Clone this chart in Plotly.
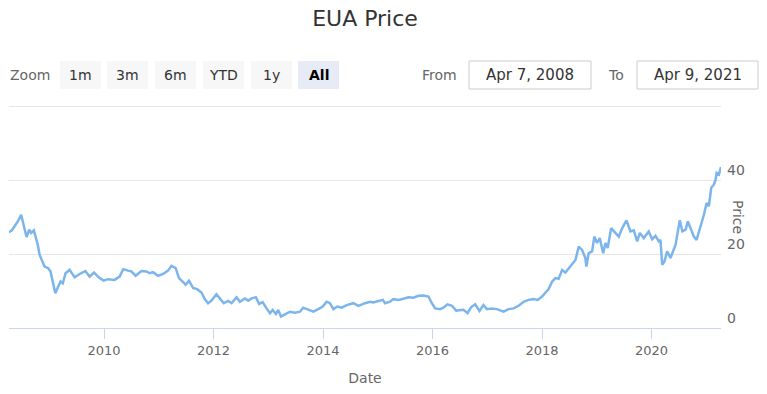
import plotly.graph_objects as go

# ---- data ----
dates = [
    "2008-04-07", "2008-04-26", "2008-05-14", "2008-06-05", "2008-06-27", "2008-07-15", "2008-08-02",
    "2008-08-20", "2008-09-02", "2008-09-20", "2008-10-06", "2008-10-16", "2008-10-28", "2008-11-08",
    "2008-11-30", "2008-12-23", "2009-01-09", "2009-01-25", "2009-02-10", "2009-02-27", "2009-03-17",
    "2009-04-01", "2009-04-19", "2009-05-16", "2009-06-19", "2009-07-22", "2009-08-29", "2009-09-27",
    "2009-10-26", "2009-11-26", "2009-12-29", "2010-01-27", "2010-03-12", "2010-04-15", "2010-05-09",
    "2010-06-10", "2010-07-02", "2010-07-31", "2010-09-07", "2010-10-11", "2010-11-02", "2010-11-24",
    "2010-12-27", "2011-01-30", "2011-03-04", "2011-03-27", "2011-04-24", "2011-05-16", "2011-06-12",
    "2011-06-30", "2011-07-22", "2011-08-18", "2011-09-14", "2011-10-13", "2011-11-04", "2011-11-26",
    "2011-12-19", "2012-01-21", "2012-02-12", "2012-03-10", "2012-04-08", "2012-05-01", "2012-06-03",
    "2012-06-25", "2012-07-29", "2012-08-20", "2012-09-11", "2012-10-10", "2012-11-01", "2012-11-24",
    "2012-12-20", "2013-01-12", "2013-01-30", "2013-02-21", "2013-03-08", "2013-03-26", "2013-04-22",
    "2013-05-25", "2013-06-28", "2013-07-31", "2013-08-22", "2013-09-24", "2013-10-28", "2013-11-30",
    "2013-12-30", "2014-01-25", "2014-02-16", "2014-03-11", "2014-04-06", "2014-05-06", "2014-06-08",
    "2014-07-22", "2014-08-25", "2014-10-08", "2014-11-11", "2014-12-03", "2015-01-05", "2015-02-04",
    "2015-02-19", "2015-03-24", "2015-04-15", "2015-05-19", "2015-06-21", "2015-07-25", "2015-08-27",
    "2015-09-29", "2015-11-02", "2015-12-05", "2015-12-28", "2016-01-19", "2016-02-21", "2016-03-14",
    "2016-04-10", "2016-05-10", "2016-06-07", "2016-07-04", "2016-07-26", "2016-08-22", "2016-09-14",
    "2016-10-12", "2016-11-10", "2016-12-06", "2016-12-29", "2017-02-01", "2017-03-06", "2017-04-19",
    "2017-05-23", "2017-06-25", "2017-07-29", "2017-08-31", "2017-10-03", "2017-11-06", "2017-12-03",
    "2018-01-01", "2018-01-23", "2018-02-14", "2018-03-09", "2018-03-31", "2018-04-22", "2018-05-15",
    "2018-06-06", "2018-06-28", "2018-07-21", "2018-08-12", "2018-09-03", "2018-09-25", "2018-10-17",
    "2018-10-24", "2018-11-08", "2018-12-01", "2018-12-16", "2019-01-03", "2019-01-21", "2019-02-13",
    "2019-02-28", "2019-03-15", "2019-04-07", "2019-04-29", "2019-05-28", "2019-06-20", "2019-07-18",
    "2019-08-14", "2019-09-05", "2019-09-28", "2019-10-15", "2019-11-11", "2019-12-14", "2020-01-06",
    "2020-01-28", "2020-02-19", "2020-03-01", "2020-03-13", "2020-03-28", "2020-04-15", "2020-05-07",
    "2020-06-10", "2020-06-21", "2020-07-08", "2020-07-25", "2020-08-16", "2020-08-31", "2020-09-18",
    "2020-10-10", "2020-10-28", "2020-11-19", "2020-12-16", "2021-01-03", "2021-01-18", "2021-02-03",
    "2021-02-21", "2021-03-04", "2021-03-11", "2021-03-26", "2021-04-09",
]
prices = [
    25.9, 26.4, 27.5, 28.8, 30.6, 27.9, 24.6,
    26.6, 25.7, 26.4, 24.0, 22.5, 19.8, 18.6,
    16.6, 16.2, 15.3, 12.3, 9.4, 11.0, 12.6,
    12.1, 14.8, 15.7, 13.7, 14.6, 15.4, 13.9,
    15.0, 13.7, 12.8, 13.2, 13.0, 13.9, 15.9,
    15.5, 15.3, 14.1, 15.4, 15.3, 14.8, 15.1,
    14.1, 14.6, 15.5, 16.8, 16.2, 13.5, 12.3,
    11.7, 12.8, 10.8, 10.5, 9.6, 7.8, 6.7,
    7.4, 9.1, 8.0, 6.7, 7.3, 6.7, 8.3,
    7.1, 8.0, 7.4, 8.0, 8.3, 6.5, 7.0,
    5.3, 4.0, 4.9, 3.8, 4.9, 3.1, 3.7,
    4.4, 4.1, 4.4, 5.5, 4.9, 4.4, 5.1,
    5.8, 7.1, 6.7, 5.1, 5.8, 5.5, 6.2,
    6.7, 6.0, 6.7, 7.1, 6.9, 7.3, 7.6,
    6.7, 7.1, 7.8, 7.6, 7.9, 8.3, 8.2,
    8.7, 8.8, 8.5, 6.7, 5.3, 5.1, 5.5,
    6.4, 6.0, 4.7, 4.7, 4.9, 4.0, 5.6,
    6.4, 4.6, 6.2, 5.1, 5.3, 5.1, 4.4,
    5.1, 5.3, 6.0, 7.1, 7.6, 7.8, 7.6,
    8.5, 9.4, 10.5, 12.5, 13.5, 13.3, 15.7,
    15.0, 16.2, 17.5, 18.4, 22.0, 21.1, 18.9,
    16.6, 20.2, 20.7, 24.7, 23.0, 24.3, 20.2,
    23.0, 21.6, 27.0, 26.1, 24.7, 27.0, 29.1,
    26.1, 26.4, 23.4, 25.7, 24.3, 26.1, 24.0,
    24.9, 23.4, 23.8, 17.1, 18.0, 20.7, 18.9,
    22.5, 24.7, 29.1, 26.1, 26.6, 28.8, 27.0,
    24.7, 23.8, 26.6, 30.6, 33.8, 32.9, 37.9,
    38.8, 40.1, 41.9, 41.5, 43.5,
]

y_tickvals = [0, 20, 40, 60]
y_ticktext = ["0", "20", "40", ""]
x_tickvals = ["2010-01-01", "2012-01-01", "2014-01-01", "2016-01-01", "2018-01-01", "2020-01-01"]
x_ticktext = ["2010", "2012", "2014", "2016", "2018", "2020"]

zoom_buttons = ["1m", "3m", "6m", "YTD", "1y", "All"]
active_button = "All"
date_from = "Apr 7, 2008"
date_to = "Apr 9, 2021"

# ---- layout geometry (pixel values of the page) ----
W, H = 767, 394
ML, MR, MT, MB = 9, 46, 102, 66
PW, PH = W - ML - MR, H - MT - MB
Y_TOP = 60 * PH / (H - MB - 106)   # 60 gridline sits 4px below the plot top
FONT = "DejaVu Sans"


def px(x):
    return (x - ML) / PW


def py(y):
    return (H - MB - y) / PH


fig = go.Figure()
fig.add_trace(go.Scatter(
    x=dates, y=prices, mode="lines", name="EUA Price",
    line=dict(color="#7cb5ec", width=2.5), hoverinfo="x+y",
))

shapes = []
annotations = []

# Zoom label
annotations.append(dict(x=px(30), y=py(75), xref="paper", yref="paper", text="Zoom",
                        showarrow=False, font=dict(family=FONT, size=14, color="#666666"),
                        xanchor="center", yanchor="middle"))
btn_left = [60, 107, 155, 203, 251, 298]
for lbl, bx in zip(zoom_buttons, btn_left):
    active = (lbl == active_button)
    shapes.append(dict(type="rect", xref="paper", yref="paper",
                       x0=px(bx), x1=px(bx + 41), y0=py(89), y1=py(61),
                       fillcolor="#e6ebf5" if active else "#f7f7f7", line=dict(width=0), layer="below"))
    annotations.append(dict(x=px(bx + 20.5), y=py(75), xref="paper", yref="paper",
                            text=f"<b>{lbl}</b>" if active else lbl, showarrow=False,
                            font=dict(family=FONT, size=14, color="#000000" if active else "#333333"),
                            xanchor="center", yanchor="middle"))

# From / To inputs
annotations.append(dict(x=px(439), y=py(75), xref="paper", yref="paper", text="From",
                        showarrow=False, font=dict(family=FONT, size=14, color="#666666"),
                        xanchor="center", yanchor="middle"))
annotations.append(dict(x=px(616), y=py(75), xref="paper", yref="paper", text="To",
                        showarrow=False, font=dict(family=FONT, size=14, color="#666666"),
                        xanchor="center", yanchor="middle"))
for (x0, x1), txt in [((469, 591), date_from), ((637, 758), date_to)]:
    shapes.append(dict(type="rect", xref="paper", yref="paper",
                       x0=px(x0), x1=px(x1), y0=py(89), y1=py(61),
                       fillcolor="white", line=dict(width=1, color="#cccccc"), layer="below"))
    annotations.append(dict(x=px((x0 + x1) / 2), y=py(75), xref="paper", yref="paper", text=txt,
                            showarrow=False, font=dict(family=FONT, size=15, color="#333333"),
                            xanchor="center", yanchor="middle"))

# Y axis title (rotated like Highcharts opposite axis)
annotations.append(dict(x=px(738), y=py(217), xref="paper", yref="paper", text="Price", textangle=90,
                        showarrow=False, font=dict(family=FONT, size=14, color="#666666"),
                        xanchor="center", yanchor="middle"))

fig.update_layout(
    width=W, height=H,
    margin=dict(l=ML, r=MR, t=MT, b=MB),
    paper_bgcolor="white", plot_bgcolor="white",
    showlegend=False,
    title=dict(text="EUA Price", x=0.5, xref="paper", y=1 - 18 / H, yanchor="middle",
               font=dict(family=FONT, size=22, color="#333333")),
    font=dict(family=FONT, color="#666666"),
    shapes=shapes,
    annotations=annotations,
    xaxis=dict(
        range=["2008-04-07", "2021-04-09"],
        tickmode="array", tickvals=x_tickvals, ticktext=x_ticktext,
        showgrid=False, showline=True, linecolor="#ccd6eb", linewidth=1,
        ticks="outside", ticklen=10, tickcolor="#ccd6eb", tickwidth=1,
        tickfont=dict(family=FONT, size=13, color="#666666"),
        title=dict(text="Date", font=dict(family=FONT, size=14, color="#666666"), standoff=16),
        zeroline=False,
    ),
    yaxis=dict(
        side="right", range=[0, Y_TOP],
        tickmode="array", tickvals=y_tickvals, ticktext=y_ticktext,
        showgrid=True, gridcolor="#e6e6e6", gridwidth=1,
        zeroline=False, showline=False, ticks="",
        ticklabelposition="outside top", ticklabelstandoff=5,
        tickfont=dict(family=FONT, size=14, color="#666666"),
    ),
)

fig.write_html("out.html", config={"displayModeBar": False},
               post_script="document.body.style.margin='0';")
